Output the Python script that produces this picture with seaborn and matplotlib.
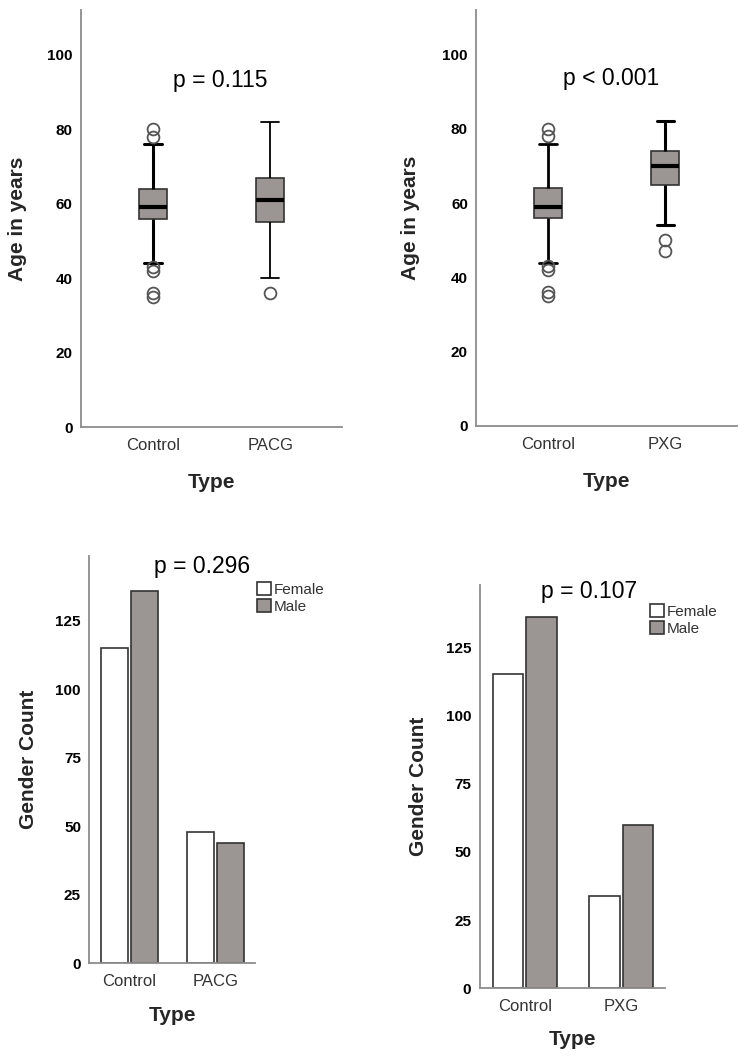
import numpy as np
import pandas as pd
import matplotlib
matplotlib.use("Agg")
import matplotlib.pyplot as plt
import seaborn as sns

# ---------------- data ----------------
types_pacg = ["Control", "PACG"]
types_pxg = ["Control", "PXG"]
genders = ["Female", "Male"]

# ages (chosen so the boxes, whiskers and outliers match the picture)
age_control = [35, 36, 42, 43, 44, 56, 57, 57, 58, 58.5, 59, 60, 61, 62, 63, 64, 65, 70, 76, 78, 80]
age_pacg = [36, 40, 45, 50, 53, 55, 57, 58, 59, 60, 61, 62, 63, 64, 66, 67, 70, 74, 77, 80, 82]
age_pxg = [47, 50, 54, 58, 62, 65, 66, 67, 68, 69, 70, 71, 72, 73, 73, 74, 76, 78, 80, 81, 82]

count_control = [115, 136]   # Female, Male
count_pacg = [48, 44]
count_pxg = [34, 60]

p_age = ["p = 0.115", "p < 0.001"]
p_gender = ["p = 0.296", "p = 0.107"]

age_ticks = [0, 20, 40, 60, 80, 100]
count_ticks = [0, 25, 50, 75, 100, 125]

# ---------------- style ----------------
sns.set_style("white")
plt.rcParams["font.family"] = ["Liberation Sans", "DejaVu Sans"]

GRAY = "#9b9593"
EDGE = "#333333"
SPINE = "#8c8c8c"

fig = plt.figure(figsize=(7.45, 10.58), dpi=100)


def style_axes(ax, ticks, ylabel, ylab_x):
    for s in ["top", "right"]:
        ax.spines[s].set_visible(False)
    for s in ["left", "bottom"]:
        ax.spines[s].set_color(SPINE)
        ax.spines[s].set_linewidth(1.3)
    ax.set_yticks(ticks)
    ax.tick_params(axis="both", length=0)
    ax.tick_params(axis="y", pad=6, labelsize=11, labelcolor="black")
    ax.tick_params(axis="x", pad=8, labelsize=12, labelcolor="#333333")
    for t in ax.get_yticklabels():
        t.set_fontweight("bold")
    ax.set_ylabel(ylabel, fontsize=15, fontweight="bold", va="center")
    ax.yaxis.set_label_coords(ylab_x, 0.5)
    ax.set_xlabel("Type", fontsize=15, fontweight="bold", va="center")


def box_panel(rect, groups, ages, whisk_lw, ptext, pxy, ylab_x):
    ax = fig.add_axes(rect)
    df = pd.DataFrame({
        "Type": np.repeat(groups, [len(a) for a in ages]),
        "Age": np.concatenate([np.asarray(a, float) for a in ages]),
    })
    for g, lw in zip(groups, whisk_lw):
        sns.boxplot(
            data=df[df["Type"] == g], x="Type", y="Age", order=groups, ax=ax,
            width=0.24, color=GRAY, saturation=1, linecolor=EDGE, linewidth=1.2,
            whis=1.5, fliersize=8.5, capwidths=0.15,
            whiskerprops=dict(linewidth=lw, color="black"),
            capprops=dict(linewidth=lw, color="black"),
            medianprops=dict(color="black", linewidth=3),
            flierprops=dict(marker="o", markerfacecolor="none",
                            markeredgecolor="#555555", markeredgewidth=1.3),
        )
    ax.set_xlim(-0.61, 1.61)
    ax.set_ylim(0, 112)
    style_axes(ax, age_ticks, "Age in years", ylab_x)
    ax.xaxis.set_label_coords(0.5, -0.134)
    ax.text(pxy[0], pxy[1], ptext, ha="center", va="center", fontsize=16.5, color="black")
    return ax


def bar_panel(rect, groups, counts_a, counts_b, ptext, pxy, ylab_x, leg_xy, ylim_top):
    ax = fig.add_axes(rect)
    df = pd.DataFrame({
        "Type": np.repeat(groups, 2),
        "Gender": genders * 2,
        "Count": list(counts_a) + list(counts_b),
    })
    sns.barplot(
        data=df, x="Type", y="Count", hue="Gender", order=groups, hue_order=genders,
        palette={"Female": "white", "Male": GRAY}, saturation=1,
        edgecolor=EDGE, linewidth=1.2, width=0.7, gap=0.1, errorbar=None, ax=ax,
    )
    handles, labels = ax.get_legend_handles_labels()
    if ax.get_legend() is not None:
        ax.get_legend().remove()
    ax.legend(handles, labels, loc="upper left", bbox_to_anchor=leg_xy, frameon=False,
              fontsize=11, handlelength=0.9, handleheight=0.9, handletextpad=0.2,
              labelspacing=0.15, borderpad=0, borderaxespad=0, labelcolor="#333333")
    ax.set_xlim(-0.465, 1.456)
    ax.set_ylim(0, ylim_top)
    style_axes(ax, count_ticks, "Gender Count", ylab_x)
    ax.xaxis.set_label_coords(0.5, -0.128)
    ax.text(pxy[0], pxy[1], ptext, ha="center", va="center", fontsize=16.5, color="black")
    return ax


box_panel([0.1087, 0.5964, 0.3503, 0.3941], types_pacg, [age_control, age_pacg],
          [2.2, 1.3], p_age[0], (0.573, 93), -0.245)
box_panel([0.6393, 0.5974, 0.3500, 0.3931], types_pxg, [age_control, age_pxg],
          [2.0, 2.2], p_age[1], (0.538, 93.5), -0.254)

bar_panel([0.1199, 0.0895, 0.2224, 0.3850], types_pacg,
          [count_control[0], count_control[1]], count_pacg,
          p_gender[0], (0.847, 144.7), -0.37, (1.012, 0.935), 148.6)
bar_panel([0.6439, 0.0659, 0.2491, 0.3812], types_pxg,
          [count_control[0], count_control[1]], count_pxg,
          p_gender[1], (0.663, 145.4), -0.329, (0.918, 0.952), 147.8)

fig.savefig("out.png", dpi=100)
